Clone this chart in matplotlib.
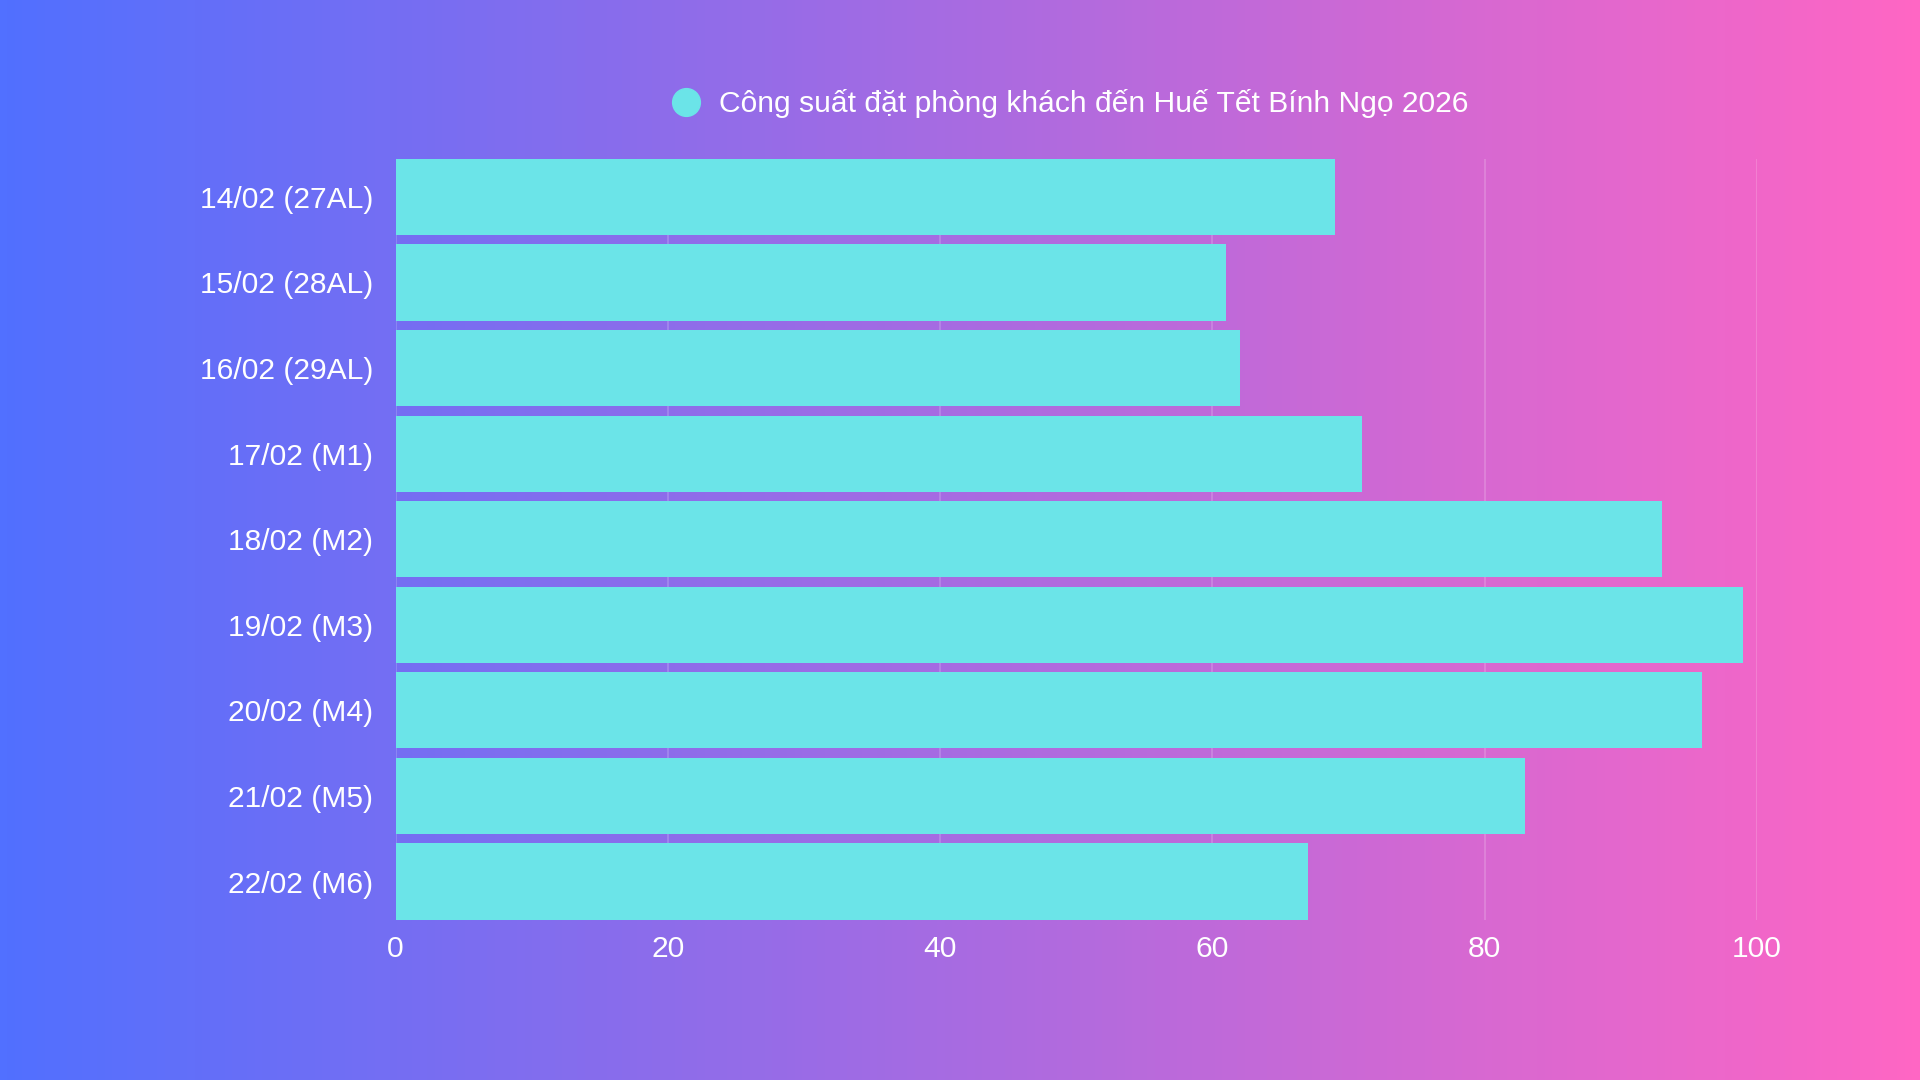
import matplotlib
matplotlib.use("Agg")
import matplotlib.pyplot as plt
import numpy as np
from matplotlib.colors import LinearSegmentedColormap
from matplotlib.lines import Line2D

plt.rcParams['font.family'] = ['Liberation Sans', 'DejaVu Sans']

# data
labels = ['14/02 (27AL)', '15/02 (28AL)', '16/02 (29AL)', '17/02 (M1)', '18/02 (M2)',
          '19/02 (M3)', '20/02 (M4)', '21/02 (M5)', '22/02 (M6)']
values = [69, 61, 62, 71, 93, 99, 96, 83, 67]
series_name = 'Công suất đặt phòng khách đến Huế Tết Bính Ngọ 2026'
xticks = [0, 20, 40, 60, 80, 100]

bar_color = '#6BE4E8'

fig = plt.figure(figsize=[19.2, 10.8], dpi=100)

# gradient background
bg = fig.add_axes([0, 0, 1, 1], zorder=-1)
cmap = LinearSegmentedColormap.from_list('bg', ['#5170FF', '#FF66C4'])
bg.imshow(np.linspace(0, 1, 512).reshape(1, -1), aspect='auto', cmap=cmap,
          extent=[0, 1, 0, 1])
bg.set_axis_off()

ax = fig.add_axes([0.206, 0.1485, 0.709, 0.7045])
ax.set_facecolor('none')

y = np.arange(len(labels))
ax.barh(y, values, height=0.89, color=bar_color, zorder=3)

ax.set_xlim(0, 100)
ax.set_ylim(len(labels) - 1 + 0.445, -0.445)
ax.set_yticks(y)
ax.set_yticklabels(labels)
ax.set_xticks(xticks)

ax.tick_params(axis='both', length=0, colors='white', labelsize=21.6)
ax.tick_params(axis='y', pad=16)
ax.tick_params(axis='x', pad=11)
for s in ax.spines.values():
    s.set_visible(False)

ax.grid(axis='x', color='white', alpha=0.2, linewidth=1.2, zorder=0)
ax.set_axisbelow(True)

handle = Line2D([], [], marker='o', linestyle='none', markersize=20,
                markerfacecolor=bar_color, markeredgecolor=bar_color)
leg = ax.legend([handle], [series_name], loc='lower center',
                bbox_to_anchor=(0.49, 1.018), frameon=False, fontsize=21.6,
                handletextpad=0.1, labelcolor='white')

fig.savefig('out.png', dpi=100)
